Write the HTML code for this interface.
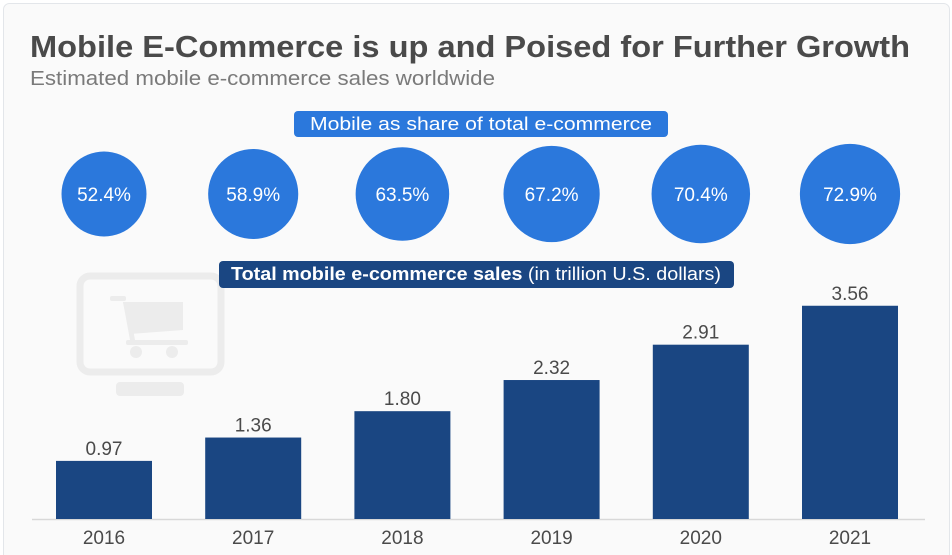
<!DOCTYPE html>
<html><head><meta charset="utf-8"><style>
html,body{margin:0;padding:0;background:#fff;}
svg{display:block;font-family:"Liberation Sans",sans-serif;}
</style></head><body>
<svg width="952" height="555" viewBox="0 0 952 555">
<rect x="3.5" y="3.5" width="946" height="560" rx="6" fill="#fafafa" stroke="#e3e6ea"/>
<text x="30" y="57" font-size="31" font-weight="bold" fill="#4a4a4a" textLength="880" lengthAdjust="spacingAndGlyphs">Mobile E-Commerce is up and Poised for Further Growth</text>
<text x="30" y="85" font-size="20" fill="#7a7a7a" textLength="465" lengthAdjust="spacingAndGlyphs">Estimated mobile e-commerce sales worldwide</text>
<rect x="294" y="111" width="374" height="26" rx="4" fill="#2b78dc"/>
<text x="481" y="130" font-size="18" fill="#fff" text-anchor="middle" textLength="342" lengthAdjust="spacingAndGlyphs">Mobile as share of total e-commerce</text>
<g fill="#ececec">
<rect x="80" y="276" width="141" height="96" rx="10" fill="none" stroke="#ececec" stroke-width="7"/>
<rect x="116" y="382" width="68" height="14" rx="4"/>
<rect x="110" y="296" width="16" height="5" rx="2"/>
<polygon points="123,302 183,302 183,330 130,334"/>
<polygon points="123,302 128,302 135,340 130,340"/>
<rect x="126" y="340" width="62" height="5" rx="2"/>
<circle cx="136" cy="352" r="6"/><circle cx="172" cy="352" r="6"/>
</g>
<rect x="219" y="261" width="515" height="27" rx="4" fill="#1a4682"/>
<text x="476" y="280" font-size="18" fill="#fff" text-anchor="middle" textLength="490" lengthAdjust="spacingAndGlyphs"><tspan font-weight="bold">Total mobile e-commerce sales</tspan> (in trillion U.S. dollars)</text>
<line x1="32" y1="519.5" x2="925" y2="519.5" stroke="#d8d8d8" stroke-width="1.5"/>
<g id="marks"></g>
</svg>
<script>
const years = ["2016","2017","2018","2019","2020","2021"];
const sales = [0.97, 1.36, 1.80, 2.32, 2.91, 3.56];
const salesLabels = ["0.97","1.36","1.80","2.32","2.91","3.56"];
const shares = [52.4, 58.9, 63.5, 67.2, 70.4, 72.9];
const shareLabels = ["52.4%","58.9%","63.5%","67.2%","70.4%","72.9%"];

const NS="http://www.w3.org/2000/svg";
const g=document.getElementById('marks');
const xC=i=>104+i*149.2;
const yS=v=>519-v*59.9;
const rS=v=>5.87*Math.sqrt(v);
function mk(t,a){const e=document.createElementNS(NS,t);for(const k in a)e.setAttribute(k,a[k]);g.appendChild(e);return e;}
years.forEach((yr,i)=>{
  const b=mk('rect',{x:xC(i)-48,y:yS(sales[i]),width:96,height:519-yS(sales[i]),fill:'#1a4682'});
  
  
  const v=mk('text',{x:xC(i),y:yS(sales[i])-6,'font-size':19,fill:'#4a4a4a','text-anchor':'middle'});
  v.textContent=salesLabels[i];
  
  
  const t=mk('text',{x:xC(i),y:544,'font-size':19,fill:'#4a4a4a','text-anchor':'middle'});
  t.textContent=yr;
  
  
  const c=mk('circle',{cx:xC(i),cy:194,r:rS(shares[i]),fill:'#2b78dc'});
  
  
  const s=mk('text',{x:xC(i),y:201,'font-size':19,fill:'#fff','text-anchor':'middle'});
  s.textContent=shareLabels[i];
  
  
});
</script>
</body></html>
